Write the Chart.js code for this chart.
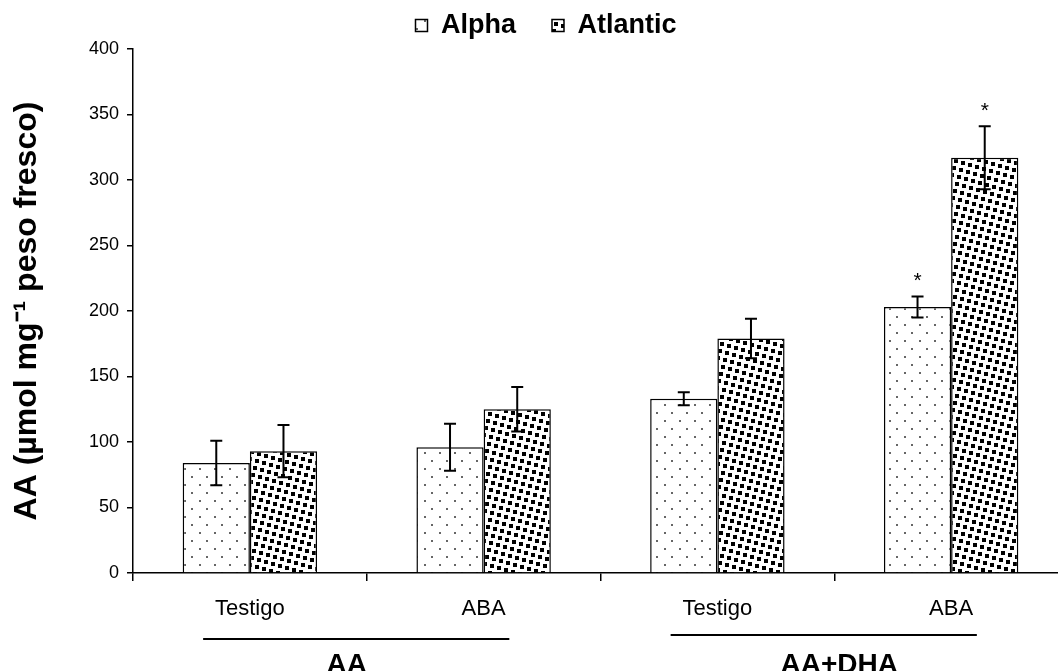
<!DOCTYPE html>
<html>
<head>
<meta charset="utf-8">
<script src="https://cdn.jsdelivr.net/npm/chart.js@4.4.0/dist/chart.umd.min.js"></script>
<style>
html, body { margin: 0; padding: 0; background: #fff; overflow: hidden; }
#wrap { width: 1100px; height: 671px; position: relative; }
</style>
</head>
<body>
<div id="wrap"><canvas id="aaChart"></canvas></div>
<script>
// values
const categories = ['Testigo', 'ABA', 'Testigo', 'ABA']
const groups = ['AA', 'AA+DHA']
const alpha = [84, 96, 133, 203]
const alphaErr = [17, 18, 5, 8]
const alphaSig = ['', '', '', '*']
const atlantic = [93, 125, 179, 317]
const atlanticErr = [20, 17, 15, 24]
const atlanticSig = ['', '', '', '*']
const yMin = 0
const yMax = 400
const yStep = 50

const FONT = '"Liberation Sans", Arial, sans-serif'

function dotPattern() {
    const c = document.createElement('canvas')
    c.width = 15; c.height = 16
    const ctx = c.getContext('2d')
    ctx.fillStyle = '#fff'
    ctx.fillRect(0, 0, 15, 16)
    ctx.fillStyle = '#666'
    ctx.fillRect(4, 4, 2, 2)
    ctx.fillRect(11, 12, 2, 2)
    return ctx.createPattern(c, 'repeat')
}

// small black squares on a slightly rotated lattice (7,2) / (-2,7), period 53
function squarePattern() {
    const size = 53
    const c = document.createElement('canvas')
    c.width = size; c.height = size
    const ctx = c.getContext('2d')
    ctx.fillStyle = '#fff'
    ctx.fillRect(0, 0, size, size)
    ctx.fillStyle = '#000'
    for (let a = -12; a <= 12; a++) {
        for (let b = -12; b <= 12; b++) {
            const px = a * 7 - b * 2
            const py = a * 2 + b * 7
            if (px > -4 && px < size && py > -4 && py < size) {
                ctx.fillRect(px, py, 4, 4)
            }
        }
    }
    return ctx.createPattern(c, 'repeat')
}

// error bars, asterisks and the AA / AA+DHA group labels
const extras = {
    id: 'extras',
    afterDatasetsDraw(chart) {
        const ctx = chart.ctx
        const y = chart.scales.y
        const errs = [alphaErr, atlanticErr]
        const sigs = [alphaSig, atlanticSig]
        ctx.save()
        ctx.strokeStyle = '#000'
        ctx.lineWidth = 2
        chart.data.datasets.forEach(function (ds, di) {
            chart.getDatasetMeta(di).data.forEach(function (bar, i) {
                const v = ds.data[i]
                const top = y.getPixelForValue(v + errs[di][i])
                const bot = y.getPixelForValue(v - errs[di][i])
                ctx.beginPath()
                ctx.moveTo(bar.x, top); ctx.lineTo(bar.x, bot)
                ctx.moveTo(bar.x - 6, top); ctx.lineTo(bar.x + 6, top)
                ctx.moveTo(bar.x - 6, bot); ctx.lineTo(bar.x + 6, bot)
                ctx.stroke()
                if (sigs[di][i]) {
                    ctx.fillStyle = '#000'
                    ctx.font = '21px ' + FONT
                    ctx.textAlign = 'center'
                    ctx.textBaseline = 'middle'
                    ctx.fillText(sigs[di][i], bar.x, top - 15)
                }
            })
        })
        ctx.restore()
    },
    afterDraw(chart) {
        const ctx = chart.ctx
        const x = chart.scales.x
        const w = x.getPixelForValue(1) - x.getPixelForValue(0)
        const textShift = [-20, 5]
        ctx.save()
        ctx.strokeStyle = '#000'
        ctx.fillStyle = '#000'
        ctx.lineWidth = 2
        groups.forEach(function (g, gi) {
            const c0 = x.getPixelForValue(gi * 2)
            const c1 = x.getPixelForValue(gi * 2 + 1)
            const x0 = c0 - 0.2 * w
            const x1 = c1 + 0.11 * w
            const ly = gi === 0 ? 639 : 635
            ctx.beginPath()
            ctx.moveTo(x0, ly); ctx.lineTo(x1, ly)
            ctx.stroke()
            ctx.font = 'bold 28px ' + FONT
            ctx.textAlign = 'center'
            ctx.textBaseline = 'alphabetic'
            ctx.fillText(g, (c0 + c1) / 2 + textShift[gi], 673)
        })
        ctx.restore()
    }
}

const data_aa = {
    labels: categories,
    datasets: [{
        label: 'Alpha',
        data: alpha,
        backgroundColor: dotPattern(),
        borderColor: '#000',
        borderWidth: 1.5
    },
    {
        label: 'Atlantic',
        data: atlantic,
        backgroundColor: squarePattern(),
        borderColor: '#000',
        borderWidth: 1.5
    }
]}

const options_aa = {
    responsive: true,
    maintainAspectRatio: false,
    animation: false,
    categoryPercentage: 0.575,
    barPercentage: 1.0,
    // left padding only moves the legend centre; the y axis box is narrowed to match
    layout: { padding: { top: -24, right: 32, left: 24, bottom: 0 } },
    plugins: {
        tooltip: { enabled: false },
        legend: {
            position: 'top',
            labels: {
                color: '#000',
                font: { family: FONT, size: 27, weight: 'bold' },
                boxWidth: 12,
                boxHeight: 12,
                padding: 36
            }
        }
    },
    scales: {
        x: {
            ticks: { color: '#000', font: { family: FONT, size: 22 }, padding: 15 },
            grid: { offset: true, drawOnChartArea: false, tickLength: 8, color: '#000', lineWidth: 1.5 },
            border: { display: true, color: '#000', width: 1.5 },
            afterFit: function (s) { s.height = 98 }
        },
        y: {
            min: yMin,
            max: yMax,
            ticks: { stepSize: yStep, color: '#000', font: { family: FONT, size: 18 }, padding: 8 },
            grid: { drawOnChartArea: false, tickLength: 6, color: '#000', lineWidth: 1.5 },
            border: { display: true, color: '#000', width: 1.5 },
            title: {
                display: true,
                text: 'AA (µmol mg⁻¹ peso fresco)',
                color: '#000',
                font: { family: FONT, size: 32, weight: 'bold' },
                padding: { top: -16, bottom: 0 }
            },
            afterFit: function (s) { s.width = 109 }
        }
    }
}

new Chart(document.getElementById('aaChart'), {
    type: 'bar',
    data: data_aa,
    options: options_aa,
    plugins: [extras]
})
</script>
</body>
</html>
